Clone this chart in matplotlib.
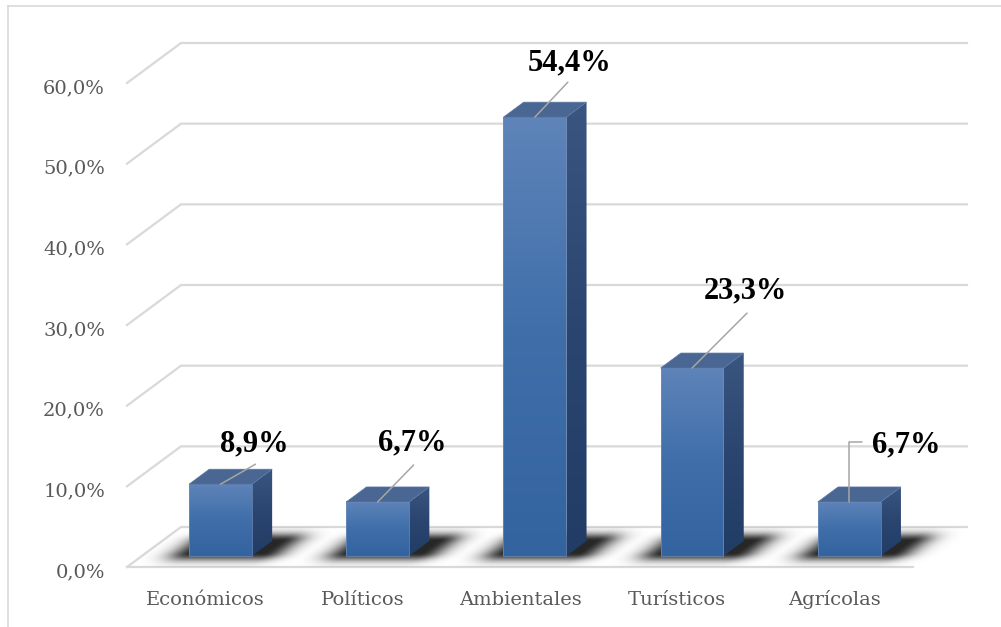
import numpy as np
import matplotlib
matplotlib.use('Agg')
import matplotlib.pyplot as plt
from matplotlib.patches import Polygon
from matplotlib.colors import LinearSegmentedColormap

# data
categorias = ['Económicos', 'Políticos', 'Ambientales', 'Turísticos', 'Agrícolas']
valores = [8.9, 6.7, 54.4, 23.3, 6.7]
etiquetas = ['8,9%', '6,7%', '54,4%', '23,3%', '6,7%']
ticks = [0, 10, 20, 30, 40, 50, 60]
tick_labels = ['0,0%', '10,0%', '20,0%', '30,0%', '40,0%', '50,0%', '60,0%']

# label / leader offsets in pixels relative to bar top front centre
lab_off = [(0, 40), (0, 59), (-7, 54), (12, 77), (23, 57)]
lead_off = [(35, 20), (36, 37), (33, 35), (55, 55), None]

fig = plt.figure(figsize=(10.01, 6.27), dpi=100)
ax = fig.add_axes([127 / 1001, 60 / 627, 786 / 1001, 484 / 627])
ax.set_xlim(-0.5, 4.5)
ax.set_ylim(0, 60)
ax.axis('off')

# depth of the 3d floor, in data units
DX = 0.3435
DY = 4.958
f1, f2 = 0.275, 0.65
w = 0.40

grid_c = '#d9d9d9'
txt_c = '#595959'
lab_font = 'DejaVu Serif'

# frame of the chart area
fig.add_artist(plt.Line2D([8 / 1001, 8 / 1001], [0, 1 - 6 / 627], color='#d9d9d9', lw=1.2))
fig.add_artist(plt.Line2D([8 / 1001, 1], [1 - 6 / 627, 1 - 6 / 627], color='#d9d9d9', lw=1.2))

# gridlines on left wall + back wall
for t in ticks:
    ax.plot([-0.5, -0.5 + DX, 4.5 + DX], [t, t + DY, t + DY], color=grid_c, lw=1.6,
            clip_on=False, zorder=1, solid_joinstyle='miter')
ax.plot([-0.5, 4.5], [0, 0], color=grid_c, lw=1.6, clip_on=False, zorder=1)

for t, lab in zip(ticks, tick_labels):
    ax.annotate(lab, (-0.5, t), xytext=(-22, -10), textcoords='offset pixels',
                ha='right', va='baseline', fontsize=14, color=txt_c,
                family=lab_font, annotation_clip=False)

x = np.arange(len(categorias))
for i, c in enumerate(categorias):
    ax.annotate(c, (i, 0), xytext=(0, -38), textcoords='offset pixels',
                ha='center', va='baseline', fontsize=14, color=txt_c,
                family=lab_font, annotation_clip=False)

front_cmap = LinearSegmentedColormap.from_list('f', ['#5e84b9', '#3f6ea9', '#3464a0'])
side_cmap = LinearSegmentedColormap.from_list('s', ['#3a5680', '#2a4670', '#213d66'])


def p(xx, yy, f):
    return (xx + DX * f, yy + DY * f)


# soft shadows on the floor, one image for all bars
gx = np.linspace(-0.5, 4.5 + DX, 1600)
gy = np.linspace(0, DY, 120)
GX, GY = np.meshgrid(gx, gy)
F = GY / DY
U = GX - DX * F
alpha = np.zeros_like(GX)
for i in range(len(valores)):
    ul, ur = x[i] - w / 2 + 0.0, x[i] + w / 2 + 0.05
    fa, fb = f1 + 0.08, f2
    du = np.maximum(np.maximum(ul - U, U - ur), 0) * 157
    df = np.maximum(np.maximum(fa - F, F - fb), 0) * 40
    a = 0.85 * np.exp(-((du / 22) ** 2 + (df / 8) ** 2))
    alpha = np.maximum(alpha, a)
alpha[(F < 0) | (F > 1)] = 0
rgba = np.zeros(GX.shape + (4,))
rgba[..., 3] = alpha
shadow = ax.imshow(rgba, extent=[gx[0], gx[-1], 0, DY], origin='lower', aspect='auto',
                   zorder=2, interpolation='bilinear')
shadow.set_clip_on(False)

grad = np.linspace(0, 1, 100).reshape(-1, 1)
for i, v in enumerate(valores):
    xl, xr = x[i] - w / 2, x[i] + w / 2
    # front face with gradient
    x0, y0 = p(xl, 0, f1)
    x1, y1 = p(xr, v, f1)
    ax.imshow(grad, cmap=front_cmap, extent=[x0, x1, y0, y1], aspect='auto',
              origin='upper', zorder=4, interpolation='bilinear')
    ax.add_patch(Polygon([(x0, y0), (x1, y0), (x1, y1), (x0, y1)], closed=True,
                         fill=False, ec='#6f8fbf', lw=0.5, zorder=4.1))
    # side face
    side = [p(xr, 0, f1), p(xr, 0, f2), p(xr, v, f2), p(xr, v, f1)]
    sp = Polygon(side, closed=True, fc='none', lw=0, zorder=3.9)
    ax.add_patch(sp)
    sx = [s[0] for s in side]
    sy = [s[1] for s in side]
    im = ax.imshow(grad, cmap=side_cmap, extent=[min(sx), max(sx), min(sy), max(sy)],
                   aspect='auto', origin='upper', zorder=3.9, interpolation='bilinear')
    im.set_clip_path(sp)
    # top face
    top = [p(xl, v, f1), p(xr, v, f1), p(xr, v, f2), p(xl, v, f2)]
    ax.add_patch(Polygon(top, closed=True, fc='#4a6692', ec='#5a78a6', lw=0.5,
                         zorder=4.2, clip_on=False))

    # data label and leader
    anchor = p(x[i], v, f1)
    dx, dy = lab_off[i]
    ax.annotate(etiquetas[i], anchor, xytext=(dx, dy), textcoords='offset pixels',
                ha='left', va='center', fontsize=22, fontweight='bold', color='black',
                family='Liberation Serif', annotation_clip=False, zorder=6)
    if lead_off[i] is not None:
        ax.annotate('', anchor, xytext=lead_off[i], textcoords='offset pixels',
                    arrowprops=dict(arrowstyle='-', color='#a6a6a6', lw=1.1,
                                    shrinkA=0, shrinkB=0),
                    annotation_clip=False, zorder=5)
    else:
        ax.annotate('', anchor, xytext=(13, 60), textcoords='offset pixels',
                    arrowprops=dict(arrowstyle='-', color='#a6a6a6', lw=1.1,
                                    shrinkA=0, shrinkB=0,
                                    connectionstyle='angle,angleA=180,angleB=90,rad=0'),
                    annotation_clip=False, zorder=5)

ax.set_xlim(-0.5, 4.5)
ax.set_ylim(0, 60)

fig.savefig('out.png', dpi=100)
